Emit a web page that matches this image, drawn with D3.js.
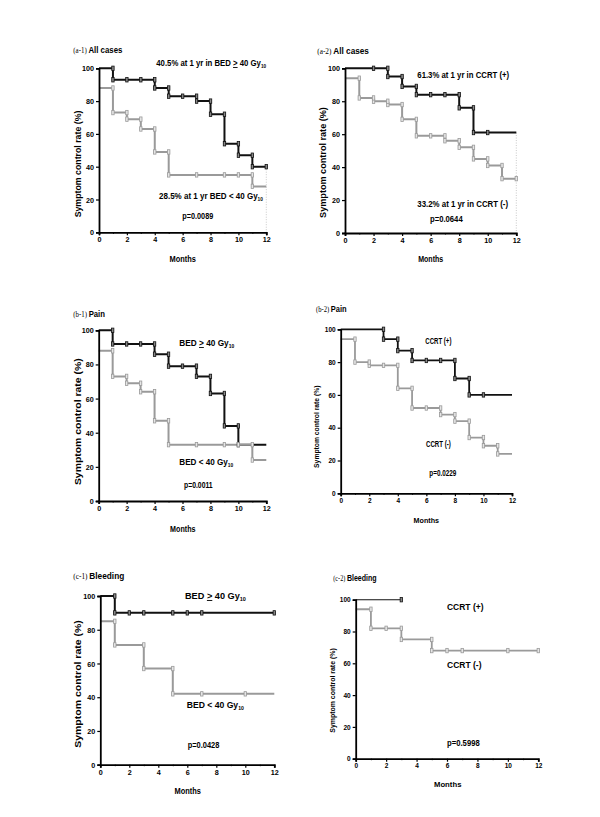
<!DOCTYPE html>
<html><head><meta charset="utf-8">
<script src="https://cdn.jsdelivr.net/npm/d3@7"></script>
<style>body{margin:0;background:#fff}</style>
</head><body>
<script>
// ---- data ----
const monthTicks = [0,2,4,6,8,10,12];
const minorTicks = [1,3,5,7,9,11];
const yTicks = [0,20,40,60,80,100];

const a1HighT = [0,1,4,5,7,8,9,10,11,12];
const a1HighV = [100,93,88,83,80,72,54,47,40,40];
const a1HighC = [1,2,3,4,5,6,7,8,9,10,11,12];
const a1LowT = [0,1,2,3,4,5,11,12];
const a1LowV = [88,73,69,63,49,35,28,28];
const a1LowC = [1,2,3,4,5,7,9,10,11];

const a2PlusT = [0,3,4,5,8,9,12];
const a2PlusV = [100,95,89,84,76,61,61];
const a2PlusC = [2,3,4,5,6,7,8,9,10];
const a2MinusT = [0,1,2,3,4,5,7,8,9,10,11,12];
const a2MinusV = [94,82,80,78,69,59,56,52,45,41,33,33];
const a2MinusC = [1,2,3,4,5,6,7,8,9,10,11,12];

const b1HighT = [0,1,4,5,7,8,9,10,12];
const b1HighV = [100,92,86,79,73,63,44,33,33];
const b1HighC = [1,2,3,4,5,6,7,8,9,10];
const b1LowT = [0,1,2,3,4,5,11,12];
const b1LowV = [88,73,69,64,47,33,24,24];
const b1LowC = [1,2,3,4,5,7,9,10,11];

const b2PlusT = [0,3,4,5,8,9,12];
const b2PlusV = [100,94,87,81,70,60,60];
const b2PlusC = [3,4,5,6,7,8,9,10];
const b2MinusT = [0,1,2,4,5,7,8,9,10,11,12];
const b2MinusV = [94,80,78,64,52,48,44,34,29,24,24];
const b2MinusC = [1,2,3,4,5,6,7,8,9,10,11];

const c1HighT = [0,1,12];
const c1HighV = [100,90,90];
const c1HighC = [1,2,3,5,6,7,12];
const c1LowT = [0,1,3,5,12];
const c1LowV = [85,71,57,42,42];
const c1LowC = [1,3,5,7,10];

const c2PlusT = [0,3];
const c2PlusV = [100,100];
const c2PlusC = [3];
const c2MinusT = [0,1,3,5,12];
const c2MinusV = [94,82,75,68,68];
const c2MinusC = [1,2,3,5,6,7,10,12];

// ---- layout ----
const BLACK = "#111", GRAY = "#9a9a9a";
const SANS = "'Liberation Sans', Arial, sans-serif";
const SERIF = "'Liberation Serif', 'Times New Roman', serif";

const panels = [
  {id:"(a-1)", name:"All cases", x0:99, x1:266.3, yT:68.3, yB:232.3,
   title:[73.3,52.5,49.4], ylab:[78.3,164,107], months:[182.7,262,26.7],
   curves:[{t:a1HighT,v:a1HighV,c:a1HighC,col:BLACK,w:2},{t:a1LowT,v:a1LowV,c:a1LowC,col:GRAY,w:2}],
   dotted:40,
   notes:[{parts:[["40.5% at 1 yr in BED "],[">","u"],[" 40 Gy"],["10","s"]],x:156.3,y:66,w:110},
          {parts:[["28.5% at 1 yr BED < 40 Gy"],["10","s"]],x:159,y:199,w:104},
          {parts:[["p=0.0089"]],x:182.3,y:219,w:31}]},
  {id:"(a-2)", name:"All cases", x0:345, x1:516.3, yT:68.3, yB:233,
   title:[317.3,54,52], ylab:[323.3,162.5,111], months:[430.7,262,25.3],
   curves:[{t:a2PlusT,v:a2PlusV,c:a2PlusC,col:BLACK,w:2},{t:a2MinusT,v:a2MinusV,c:a2MinusC,col:GRAY,w:2}],
   dotted:61,
   notes:[{parts:[["61.3% at 1 yr in CCRT (+)"]],x:417.3,y:77.5,w:92},
          {parts:[["33.2% at 1 yr in CCRT (-)"]],x:417.3,y:207,w:91},
          {parts:[["p=0.0644"]],x:430,y:222,w:32.7}]},
  {id:"(b-1)", name:"Pain", x0:98.7, x1:266.3, yT:330.3, yB:501,
   title:[73.3,317,31.7], ylab:[78.3,421.7,127], months:[182.8,532,25.7],
   curves:[{t:b1HighT,v:b1HighV,c:b1HighC,col:BLACK,w:2},{t:b1LowT,v:b1LowV,c:b1LowC,col:GRAY,w:2}],
   notes:[{parts:[["BED "],[">","u"],[" 40 Gy"],["10","s"]],x:179.3,y:346,w:55},
          {parts:[["BED < 40 Gy"],["10","s"]],x:179.3,y:465,w:54},
          {parts:[["p=0.0011"]],x:184,y:487.5,w:28.7}]},
  {id:"(b-2)", name:"Pain", x0:340.7, x1:512, yT:329.3, yB:493.3, small:true,
   title:[316,312,30.7], ylab:[316,426.7,83], months:[426.3,522.5,26],
   curves:[{t:b2PlusT,v:b2PlusV,c:b2PlusC,col:BLACK,w:1.8},{t:b2MinusT,v:b2MinusV,c:b2MinusC,col:GRAY,w:1.8}],
   notes:[{parts:[["CCRT (+)"]],x:425.3,y:343.5,w:26.3},
          {parts:[["CCRT (-)"]],x:426,y:446.5,w:25},
          {parts:[["p=0.0229"]],x:429.3,y:475.5,w:27.3}]},
  {id:"(c-1)", name:"Bleeding", x0:100.3, x1:274.3, yT:596, yB:764.7,
   title:[73.3,579,51], ylab:[78.3,684,128], months:[187.7,793.5,26.7],
   curves:[{t:c1HighT,v:c1HighV,c:c1HighC,col:BLACK,w:2},{t:c1LowT,v:c1LowV,c:c1LowC,col:GRAY,w:2}],
   notes:[{parts:[["BED "],[">","u"],[" 40 Gy"],["10","s"]],x:185,y:599,w:61},
          {parts:[["BED < 40 Gy"],["10","s"]],x:186.7,y:708,w:57.3},
          {parts:[["p=0.0428"]],x:187.7,y:747.5,w:31.7}]},
  {id:"(c-2)", name:"Bleeding", x0:355.7, x1:538.3, yT:599.7, yB:758.7, small:true,
   title:[333.3,581,43.4], ylab:[331.7,690.5,85], months:[447.7,787,28],
   curves:[{t:c2PlusT,v:c2PlusV,c:c2PlusC,col:BLACK,w:1.1},{t:c2MinusT,v:c2MinusV,c:c2MinusC,col:GRAY,w:1.8}],
   notes:[{parts:[["CCRT (+)"]],x:447,y:609.5,w:36.7},
          {parts:[["CCRT (-)"]],x:447,y:667.5,w:34.7},
          {parts:[["p=0.5998"]],x:447,y:746,w:33}]}
];

const svg = d3.select("body").append("svg").attr("width",600).attr("height",817)
  .style("font-family",SANS);

function fit(textSel, x, y, width, rotate, anchor){
  const w = textSel.node().getBBox().width;
  const s = w > 0 ? width / w : 1;
  textSel.attr("text-anchor", anchor || "start")
    .attr("transform", `translate(${x},${y})` + (rotate ? " rotate(-90)" : "") + ` scale(${s},1)`);
}

function addParts(txt, parts, size){
  parts.forEach(p => {
    const ts = txt.append("tspan").text(p[0]);
    if (p[1] === "s") ts.attr("font-size", size*0.6).attr("dy", 2);
    if (p[1] === "u") ts.style("text-decoration","underline");
  });
}

panels.forEach(P => {
  const g = svg.append("g");
  const x = d3.scaleLinear().domain([0,12]).range([P.x0,P.x1]);
  const y = d3.scaleLinear().domain([0,100]).range([P.yB,P.yT]);
  const tickFs = P.small ? 6.5 : 7.2;

  if (P.dotted !== undefined) {
    g.append("line").attr("x1",x(12)).attr("x2",x(12)).attr("y1",y(P.dotted)).attr("y2",y(0))
      .attr("stroke","#bbb").attr("stroke-width",0.8).attr("stroke-dasharray","1,1.5");
  }

  const line = d3.line().x(d=>x(d[0])).y(d=>y(d[1])).curve(d3.curveStepAfter);
  P.curves.forEach(C => {
    const pts = C.t.map((t,i)=>[t, C.v[i]]);
    g.append("path").attr("d", line(pts)).attr("fill","none")
      .attr("stroke",C.col).attr("stroke-width",C.w).attr("stroke-linejoin","miter");
  });
  P.curves.forEach(C => {
    const valAt = t => { let v = C.v[0]; C.t.forEach((tt,i)=>{ if (tt <= t) v = C.v[i]; }); return v; };
    const valBefore = t => { let v = C.v[0]; C.t.forEach((tt,i)=>{ if (tt < t) v = C.v[i]; }); return v; };
    const marks = [];
    C.c.forEach(t => {
      marks.push([t, valAt(t)]);
      const pre = valBefore(t);
      if (C.t.includes(t) && pre !== valAt(t) && t > 0) marks.push([t, pre]);
    });
    g.selectAll(null).data(marks).enter().append("rect")
      .attr("x", d=>x(d[0])-1.2).attr("y", d=>y(d[1])-2.2)
      .attr("width",2.4).attr("height",4.4)
      .attr("fill", C.col === BLACK ? "#888" : "#e6e6e6")
      .attr("stroke", C.col).attr("stroke-width",0.8);
  });

  const xa = g.append("g").attr("transform",`translate(0,${P.yB})`)
    .call(d3.axisBottom(x).tickValues(monthTicks).tickSize(3).tickPadding(2).tickFormat(d3.format("d")));
  g.append("g").attr("transform",`translate(0,${P.yB})`)
    .call(d3.axisBottom(x).tickValues(minorTicks).tickSize(1.5).tickFormat(""))
    .call(s=>s.select(".domain").remove());
  const ya = g.append("g").attr("transform",`translate(${P.x0},0)`)
    .call(d3.axisLeft(y).tickValues(yTicks).tickSize(3).tickPadding(2).tickFormat(d3.format("d")));
  [xa, ya].forEach(a => {
    a.select(".domain").attr("stroke","#000").attr("stroke-width",1.8);
    a.selectAll(".tick line").attr("stroke","#000").attr("stroke-width",1.2);
    a.selectAll(".tick text").attr("fill","#000").attr("font-size",tickFs)
      .attr("font-weight","bold").attr("font-family",SANS);
  });
  ya.selectAll(".tick text").attr("dy","0.35em");

  P.notes.forEach(N => {
    const fs = P.small ? 8.5 : 9;
    const t = g.append("text").attr("font-size",fs).attr("font-weight","bold").attr("fill","#000");
    addParts(t, N.parts, fs);
    fit(t, N.x, N.y, N.w);
  });

  const tt = g.append("text").attr("fill","#000");
  tt.append("tspan").text(P.id + " ").attr("font-family",SERIF).attr("font-size",7.5);
  tt.append("tspan").text(P.name).attr("font-weight","bold").attr("font-size",8.5);
  fit(tt, P.title[0], P.title[1], P.title[2]);

  const yl = g.append("text").text("Symptom control rate (%)").attr("font-weight","bold")
    .attr("font-size", P.small ? 7.5 : 9).attr("fill","#000");
  fit(yl, P.ylab[0] + 3, P.ylab[1], P.ylab[2], true, "middle");

  const xl = g.append("text").text("Months").attr("font-weight","bold")
    .attr("font-size", P.small ? 8 : 8.5).attr("fill","#000");
  fit(xl, P.months[0], P.months[1], P.months[2], false, "middle");
});
</script>
</body></html>
